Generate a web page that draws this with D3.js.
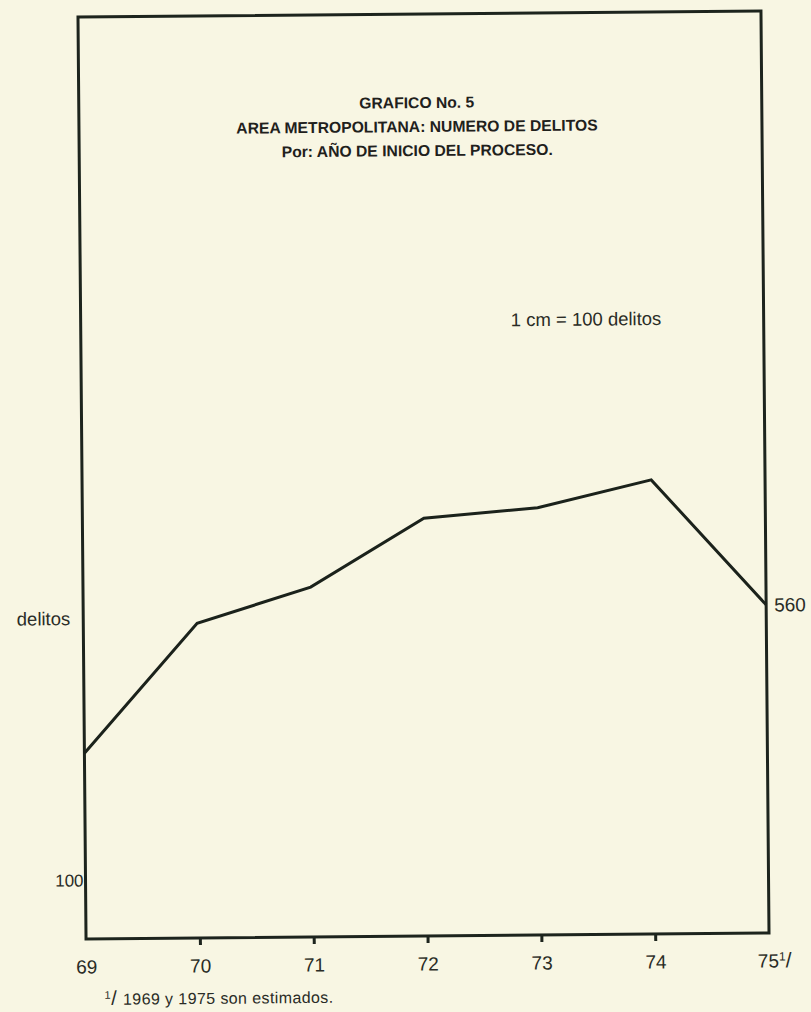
<!DOCTYPE html>
<html lang="es">
<head>
<meta charset="utf-8">
<title>Grafico No. 5</title>
<script src="https://d3js.org/d3.v7.min.js"></script>
<style>
    html, body {
        margin: 0;
        padding: 0;
        background: #f8f6e3;
    }
    text {
        font-family: "Liberation Sans", Arial, sans-serif;
        fill: #2a2c26;
    }
    .titulo {
        font-weight: bold;
        font-size: 15.7px;
        fill: #1f211c;
    }
    .axis path, .axis line {
        stroke: #1d241d;
        stroke-width: 3px;
    }
    path.line {
        fill: none;
        stroke: #1b221b;
        stroke-width: 3px;
        stroke-linejoin: miter;
    }
</style>
</head>
<body>
<script>
    // años (eje x) y numero de delitos
    var years = ["69", "70", "71", "72", "73", "74", "75"];
    var delitos = [317, 537, 597, 713, 729, 775, 560];
    var titleLines = ["GRAFICO No. 5",
                      "AREA METROPOLITANA: NUMERO DE DELITOS",
                      "Por: AÑO DE INICIO DEL PROCESO."];
    var leftTicks = [100];
    var rightTicks = [560];
    var escala = "1 cm = 100 delitos";
    var nota = "1969 y 1975 son estimados.";

    var W = 811, H = 1012;
    var box = {left: 82, top: 14, width: 683, height: 922};

    var svg = d3.select("body").append("svg")
        .attr("width", W).attr("height", H);

    // the scanned page is a little bit tilted
    var page = svg.append("g")
        .attr("transform", "rotate(-0.5, 424, 475)");

    var x = d3.scalePoint().domain(years).range([0, box.width]);
    var y = d3.scaleLinear().domain([0, 1000]).range([box.height, box.height - 586]);

    var g = page.append("g")
        .attr("transform", "translate(" + box.left + "," + box.top + ")");

    g.append("rect")
        .attr("width", box.width).attr("height", box.height)
        .attr("fill", "none").attr("stroke", "#1d241d").attr("stroke-width", 3);

    // titulo
    page.selectAll("text.titulo").data(titleLines).enter().append("text")
        .attr("class", "titulo")
        .attr("x", 420)
        .attr("y", function(d, i) { return 108 + i * 24; })
        .attr("text-anchor", "middle")
        .text(function(d) { return d; });

    page.append("text")
        .attr("x", 512).attr("y", 327)
        .style("font-size", "18.5px")
        .text(escala);

    var line = d3.line()
        .x(function(d, i) { return x(years[i]); })
        .y(function(d) { return y(d); });

    g.append("path")
        .datum(delitos)
        .attr("class", "line")
        .attr("d", line);

    var xAxis = d3.axisBottom(x).tickSizeInner(7).tickSizeOuter(0).tickPadding(14);
    var xg = g.append("g")
        .attr("class", "axis x")
        .attr("transform", "translate(0," + box.height + ")")
        .call(xAxis);
    xg.selectAll("text")
        .style("font-size", "19px")
        .attr("fill", "#2a2c26");
    xg.select(".domain").remove();
    xg.selectAll(".tick").filter(function(d) { return d === "69" || d === "75"; })
        .select("line").remove();
    // 75 lleva la llamada 1/
    var t75 = xg.selectAll(".tick").filter(function(d) { return d === "75"; }).select("text");
    t75.append("tspan").attr("dy", "-7").style("font-size", "12px").text("1");
    t75.append("tspan").attr("dy", "7").style("font-size", "21px").text("/");
    t75.attr("text-anchor", "start").attr("dx", "-12");

    var yl = g.append("g").attr("class", "axis y")
        .call(d3.axisLeft(y).tickValues(leftTicks).tickSize(0).tickPadding(2));
    yl.select(".domain").remove();
    yl.selectAll("text").style("font-size", "17px").attr("fill", "#2a2c26");

    var yr = g.append("g").attr("class", "axis y")
        .attr("transform", "translate(" + box.width + ",0)")
        .call(d3.axisRight(y).tickValues(rightTicks).tickSize(0).tickPadding(8));
    yr.select(".domain").remove();
    yr.selectAll("text").style("font-size", "19px").attr("fill", "#2a2c26");

    page.append("text")
        .attr("x", 69).attr("y", 622)
        .attr("text-anchor", "end")
        .style("font-size", "18.5px")
        .text("delitos");

    // nota al pie
    var fn = page.append("text")
        .attr("x", 100).attr("y", 1002)
        .style("font-size", "16px")
        .style("letter-spacing", "0.4px");
    fn.append("tspan").attr("dy", "-6").style("font-size", "11px").text("1");
    fn.append("tspan").attr("dy", "6").style("font-size", "20px").text("/ ");
    fn.append("tspan").text(nota);
</script>
</body>
</html>
